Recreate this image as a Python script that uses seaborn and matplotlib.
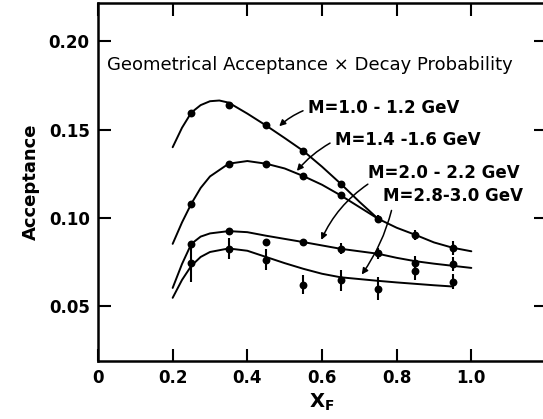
import numpy as np
import pandas as pd
import matplotlib
matplotlib.use("Agg")
import matplotlib.pyplot as plt
import seaborn as sns

# ---- data ----
x_pts = [0.25, 0.35, 0.45, 0.55, 0.65, 0.75, 0.85, 0.95]

m10_y = [0.1596, 0.1636, 0.1523, 0.1379, 0.1194, 0.0996, 0.0905, 0.0832]
m10_err = [0, 0, 0, 0, 0, 0.002, 0.003, 0.004]

m14_x = [0.25, 0.35, 0.45, 0.55, 0.65]
m14_y = [0.1081, 0.1307, 0.1307, 0.1237, 0.1128]

m20_y = [0.0854, 0.0926, 0.0864, 0.0864, 0.0826, 0.0801, 0.0745, 0.0741]
m20_err = [0, 0, 0, 0, 0.003, 0.003, 0.004, 0.004]

m28_y = [0.0745, 0.0826, 0.0764, 0.0624, 0.0647, 0.0600, 0.0698, 0.0641]
m28_err = [0.0105, 0.006, 0.006, 0.0055, 0.006, 0.0065, 0.005, 0.004]

# curves
c10_x = [0.20, 0.225, 0.25, 0.275, 0.30, 0.325, 0.35, 0.40, 0.45, 0.50, 0.55,
         0.60, 0.65, 0.70, 0.75, 0.80, 0.85, 0.90, 0.95, 1.00]
c10_y = [0.140, 0.151, 0.1596, 0.1638, 0.1660, 0.1664, 0.1652, 0.1590, 0.1523,
         0.1452, 0.1379, 0.1290, 0.1194, 0.1092, 0.0996, 0.0945, 0.0905,
         0.0862, 0.0832, 0.0812]
c14_x = [0.20, 0.225, 0.25, 0.275, 0.30, 0.35, 0.40, 0.45, 0.50, 0.55, 0.60,
         0.65, 0.70, 0.75]
c14_y = [0.0854, 0.0975, 0.1081, 0.1170, 0.1235, 0.1307, 0.1322, 0.1307,
         0.1280, 0.1237, 0.1188, 0.1128, 0.1062, 0.0996]
c20_x = [0.20, 0.225, 0.25, 0.275, 0.30, 0.35, 0.40, 0.45, 0.50, 0.55, 0.60,
         0.65, 0.70, 0.75, 0.80, 0.85, 0.90, 0.95, 1.00]
c20_y = [0.0605, 0.0740, 0.0854, 0.0895, 0.0913, 0.0926, 0.0920, 0.0900,
         0.0882, 0.0864, 0.0845, 0.0826, 0.0812, 0.0798, 0.0775, 0.0756,
         0.0742, 0.0730, 0.0718]
c28_x = [0.20, 0.225, 0.25, 0.275, 0.30, 0.35, 0.40, 0.45, 0.50, 0.55, 0.60,
         0.65, 0.70, 0.75, 0.80, 0.85, 0.90, 0.95]
c28_y = [0.0549, 0.0650, 0.0730, 0.0780, 0.0808, 0.0828, 0.0815, 0.0780,
         0.0745, 0.0713, 0.0685, 0.0665, 0.0655, 0.0645, 0.0636, 0.0628,
         0.0620, 0.0613]

x_ticks = [0, 0.2, 0.4, 0.6, 0.8, 1.0]
x_ticklabels = ["0", "0.2", "0.4", "0.6", "0.8", "1.0"]
y_ticks = [0.05, 0.10, 0.15, 0.20]
y_ticklabels = ["0.05", "0.10", "0.15", "0.20"]

labels = ["M=1.0 - 1.2 GeV", "M=1.4 -1.6 GeV", "M=2.0 - 2.2 GeV", "M=2.8-3.0 GeV"]
title_text = "Geometrical Acceptance \u00d7 Decay Probability"

# ---- plot ----
sns.set_style("ticks")
plt.rcParams["font.family"] = ["DejaVu Sans"]
plt.rcParams["mathtext.default"] = "bf"
plt.rcParams["text.color"] = "black"
plt.rcParams["axes.labelcolor"] = "black"

W, H = 543, 419
fig = plt.figure(figsize=(W / 100, H / 100), dpi=100)
ax = fig.add_axes([98 / W, 1 - 361 / H, (546 - 98) / W, (361 - 3) / H])

lw = 1.4
for cx, cy in [(c10_x, c10_y), (c14_x, c14_y), (c20_x, c20_y), (c28_x, c28_y)]:
    sns.lineplot(x=cx, y=cy, ax=ax, color="black", lw=lw, sort=False)

for xs, ys, es in [(x_pts, m10_y, m10_err), (x_pts, m20_y, m20_err),
                   (x_pts, m28_y, m28_err)]:
    ax.errorbar(xs, ys, yerr=es, fmt="none", ecolor="black", elinewidth=1.5,
                capsize=0)

pts = pd.DataFrame({
    "x": x_pts + m14_x + x_pts + x_pts,
    "y": m10_y + m14_y + m20_y + m28_y,
})
sns.scatterplot(data=pts, x="x", y="y", ax=ax, color="black", s=32,
                edgecolor="black", linewidth=0, zorder=5)

ax.set_xlim(0, 1.2)
ax.set_ylim(0.0192, 0.2215)
ax.set_xticks(x_ticks)
ax.set_xticklabels(x_ticklabels)
ax.set_yticks(y_ticks)
ax.set_yticklabels(y_ticklabels)
ax.tick_params(direction="in", length=9, width=1.5, top=True, right=True,
               labelsize=12, pad=6, colors="black")
for lab in ax.get_xticklabels() + ax.get_yticklabels():
    lab.set_fontweight("bold")
ax.xaxis.set_ticks_position("both")
for sp in ax.spines.values():
    sp.set_linewidth(1.8)
    sp.set_visible(True)
    sp.set_color("black")

ax.set_xlabel("X$_\\mathbf{F}$", fontsize=14, fontweight="bold", labelpad=3)
ax.set_ylabel("Acceptance", fontsize=13, fontweight="bold", labelpad=6)

ax.text(0.024, 0.1864, title_text, fontsize=13, va="center", ha="left")

txt_kw = dict(fontsize=12, va="center", ha="left", fontweight="bold")
ax.text(0.563, 0.1621, labels[0], **txt_kw)
ax.text(0.635, 0.1441, labels[1], **txt_kw)
ax.text(0.724, 0.1254, labels[2], **txt_kw)
ax.text(0.764, 0.1124, labels[3], **txt_kw)

arr = dict(arrowstyle="-|>", color="black", lw=1.1, mutation_scale=9)
ax.annotate("", xy=(0.480, 0.1508), xytext=(0.556, 0.1612),
            arrowprops=dict(arr, connectionstyle="arc3,rad=0.1"))
ax.annotate("", xy=(0.528, 0.1254), xytext=(0.628, 0.1431),
            arrowprops=dict(arr, connectionstyle="arc3,rad=0.1"))
ax.annotate("", xy=(0.595, 0.0862), xytext=(0.729, 0.1200),
            arrowprops=dict(arr, connectionstyle="arc3,rad=0.15"))
ax.annotate("", xy=(0.702, 0.0668), xytext=(0.788, 0.1058),
            arrowprops=dict(arr, connectionstyle="arc3,rad=-0.1"))

fig.savefig("out.png", dpi=100)
